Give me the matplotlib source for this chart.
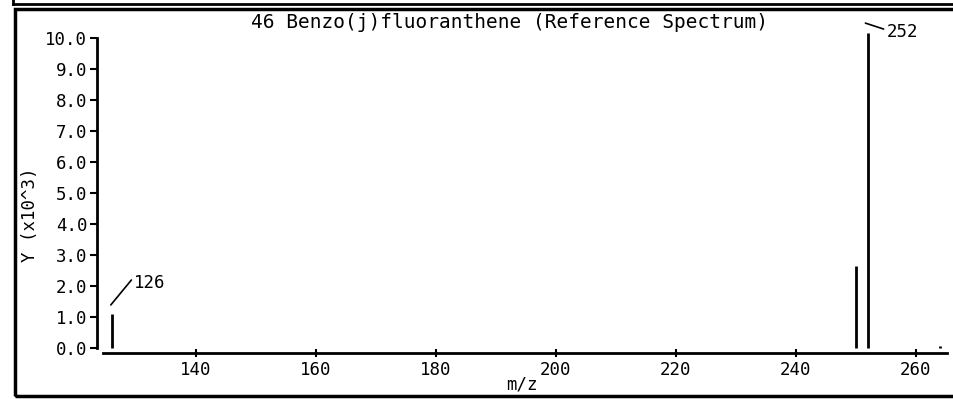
import matplotlib
matplotlib.use("Agg")
import matplotlib.pyplot as plt
from matplotlib.patches import Rectangle
from matplotlib.lines import Line2D

# peaks: m/z and intensity (x10^3)
mz = [126, 250, 252, 264]
intensity = [1.1, 2.65, 10.15, 0.08]
xticks = [140, 160, 180, 200, 220, 240, 260]
yticks = [0, 1, 2, 3, 4, 5, 6, 7, 8, 9, 10]
title = "46 Benzo(j)fluoranthene (Reference Spectrum)"

plt.rcParams['font.family'] = ['DejaVu Sans Mono']
fs = 12.5

fig = plt.figure(figsize=(9.54, 3.99), dpi=100)
ax = fig.add_axes([97 / 954, 46 / 399, 850 / 954, 333 / 399])

ax.vlines(mz, 0, intensity, colors='black', linewidth=2.0)

ax.set_xlim(123.5, 265.2)
ax.set_ylim(-0.16, 10.58)
ax.spines['top'].set_visible(False)
ax.spines['right'].set_visible(False)
ax.spines['left'].set_bounds(0, 10)
ax.spines['bottom'].set_bounds(124.5, 265.2)
for s in ('left', 'bottom'):
    ax.spines[s].set_linewidth(2.0)

ax.set_xticks(xticks)
ax.set_yticks(yticks)
ax.set_yticklabels(["%.1f" % v for v in yticks])
ax.tick_params(axis='y', direction='out', length=5, width=1.5, labelsize=fs, pad=2)
ax.tick_params(axis='x', direction='inout', length=6, width=1.5, labelsize=fs, pad=3)

ax.set_xlabel("m/z", fontsize=fs, labelpad=-3)
ax.set_ylabel("Y (x10^3)", fontsize=fs)
ax.yaxis.set_label_coords(-0.068, 0.414)

# peak labels with leader lines
ax.annotate("126", xy=(125.8, 1.39), xytext=(129.7, 2.1), fontsize=fs,
            va='center', ha='left',
            arrowprops=dict(arrowstyle='-', color='black', lw=1.2,
                            shrinkA=0, shrinkB=0, relpos=(0, 0.85)))
ax.annotate("252", xy=(251.6, 10.48), xytext=(255.1, 10.2), fontsize=fs,
            va='center', ha='left',
            arrowprops=dict(arrowstyle='-', color='black', lw=1.2,
                            shrinkA=0, shrinkB=0, relpos=(0, 0.6)))

fig.text(510 / 954, 1 - 22 / 399, title, fontsize=14, ha='center', va='center')

# frame of the scanned page
fig.patches.append(Rectangle((15 / 954, 3 / 399), 945 / 954, 387 / 399,
                             transform=fig.transFigure, fill=False,
                             edgecolor='black', linewidth=2.5))
fig.lines.append(Line2D([13 / 954, 1], [1 - 4 / 399, 1 - 4 / 399],
                        transform=fig.transFigure, color='black', linewidth=2))
fig.lines.append(Line2D([13 / 954, 13 / 954], [1 - 4 / 399, 1],
                        transform=fig.transFigure, color='black', linewidth=2))

fig.savefig("out.png", dpi=100)
